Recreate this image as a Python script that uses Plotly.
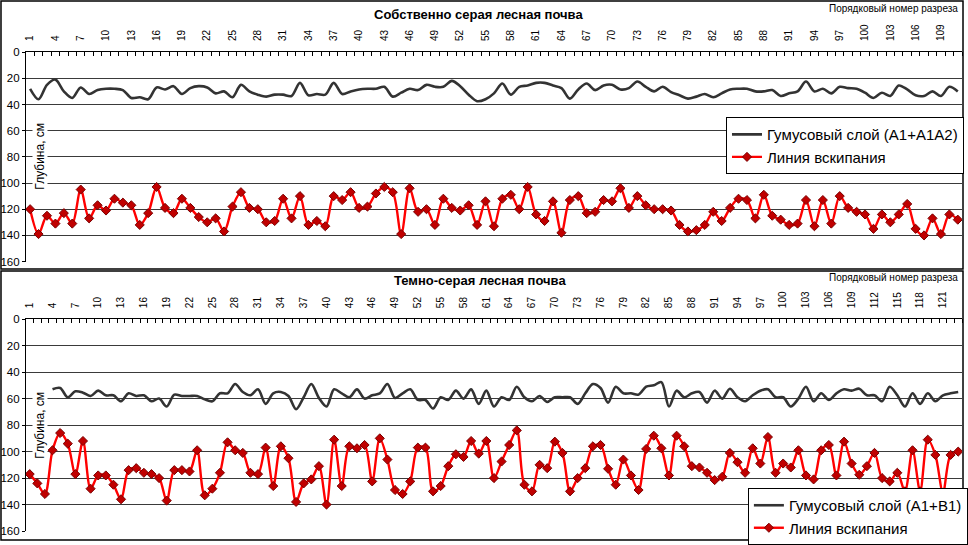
import plotly.graph_objects as go

# ---------------- data ----------------
top_sections = list(range(1, 112))
top_humus = [28, 36, 25, 21, 30, 35, 27, 32, 29, 28, 28, 29, 35, 34.5, 36, 27, 28.5, 26, 32, 27.5,
             26, 27, 31.5, 30, 34.5, 25, 30, 32.5, 34, 32.5, 32.5, 33.5, 23.5, 33, 32, 32.5, 23.5, 32, 30, 28.5,
             28, 28, 26.5, 34, 31, 28, 29, 25, 26.5, 26.5, 22, 26, 32.5, 37.5, 36, 31.5, 24, 32.5, 26.5, 25.5,
             23.5, 23.5, 25.5, 27.5, 35.5, 28.5, 24, 29, 25.5, 25, 28.5, 27.5, 22.5, 26.5, 30, 26.5, 30.5, 33, 35.5, 34,
             32, 34.5, 31.5, 28.5, 28, 28, 30, 30, 29, 33.5, 31.5, 30, 22.5, 30, 28, 31.5, 26.5, 27.5, 28, 31,
             35, 31, 33.5, 25.5, 28.5, 33, 33.5, 30, 33.5, 26.5, 30]
top_boil = [120, 139, 125, 131, 123, 131, 105, 127, 117, 121, 112, 115, 117, 132, 123, 103, 119, 123, 112, 119,
            126, 130, 127, 137, 118, 107, 119, 120, 130, 129, 112, 127, 110, 132, 129, 133, 110, 113, 107, 119,
            118, 108, 103, 107, 139, 104, 122, 120, 132, 112, 119, 121, 117, 132, 114, 133, 112, 109, 120, 103,
            124, 129, 114, 138, 113, 110, 123, 122, 113, 114, 104, 119, 110, 117, 120, 120, 121, 132, 137, 136,
            132, 122, 129, 119, 112, 113, 127, 109, 125, 128, 132, 131, 113, 133, 113, 131, 110, 119, 122, 124,
            135, 124, 130, 124, 116, 135, 140, 127, 139, 124, 128]
top_ticks = list(range(1, 112, 3))

bot_sections = list(range(1, 124))
bot_humus = [None, None, None, 53, 52, 59, 54.5, 55.5, 58, 54, 57.5, 57.5, 62, 56, 58, 57.5, 62, 60, 66, 57,
             58, 58, 58, 60.5, 62, 56, 56, 49, 55, 57.5, 53, 64, 56, 55, 58, 68, 59, 49, 59.5, 66,
             53, 56, 59, 53, 60, 57.5, 56, 49, 59.5, 56, 53, 61, 61, 67.5, 59, 61, 54, 60, 53, 64,
             54, 66, 59, 61, 51, 59, 62, 58, 62.5, 59, 59, 59, 64, 56, 49, 52, 63, 51, 56, 56,
             57, 51, 50, 47.5, 66, 54, 59, 56, 55, 63, 54, 60, 52.5, 59, 62, 57.5, 54, 53, 59, 59,
             66, 60, 51, 62, 56, 61, 56, 53, 54, 52.5, 57.5, 57.5, 62, 51, 57.5, 66, 56, 64, 56, 62,
             57.5, 56, 55]
bot_boil = [117, 124, 132, 99, 86, 94, 117, 92, 128, 118, 118, 125, 136, 114, 112.5, 116, 117, 120, 137, 114,
            114, 115, 99, 133, 128, 116, 93, 99, 101, 116, 117, 97, 126, 96, 105, 138, 124, 121, 111, 140,
            91, 126, 96, 97.5, 95, 122.5, 90, 106, 129, 132, 122.5, 97, 97, 130, 126, 111, 102, 104, 92, 101.5,
            92, 120, 107.5, 95, 84, 125, 130, 110, 112.5, 92.5, 101, 130, 120, 112.5, 96, 95, 113, 125, 106, 118,
            129, 98, 88, 97.5, 118, 88, 96, 111, 112, 116, 121.5, 119, 101, 108, 116, 97.5, 109, 89, 116, 109,
            112, 99, 118, 121, 99, 95, 118, 92.5, 109, 117.5, 111, 101, 120, 122.5, 116, 130, 99, 130, 91, 102.5,
            131, 102.5, 100]
bot_ticks = list(range(1, 124, 3))

y_ticks = list(range(0, 161, 20))

top_title = "Собственно серая лесная почва"
bot_title = "Темно-серая лесная почва"
x_title = "Порядковый номер разреза"
y_title = "Глубина, см"
top_humus_name = "Гумусовый слой (A1+A1A2)"
bot_humus_name = "Гумусовый слой (A1+B1)"
boil_name = "Линия вскипания"

# ---------------- figure ----------------
W, H = 968, 545
FONT = "Arial, Liberation Sans, sans-serif"

def px(x):
    return x / W

def py(y):
    return 1 - y / H

fig = go.Figure()

humus_style = dict(mode="lines", line=dict(color="#333333", width=2.6, shape="spline", smoothing=0.9))
boil_style = dict(mode="lines+markers",
                  line=dict(color="#ff0000", width=2.4, shape="spline", smoothing=0.9),
                  marker=dict(symbol="diamond", size=7, color="#c00000", line=dict(color="#7a0000", width=1)))

fig.add_trace(go.Scatter(x=top_sections, y=top_humus, name=top_humus_name, xaxis="x", yaxis="y",
                         legend="legend", connectgaps=False, **humus_style))
fig.add_trace(go.Scatter(x=top_sections, y=top_boil, name=boil_name, xaxis="x", yaxis="y",
                         legend="legend", **boil_style))
fig.add_trace(go.Scatter(x=bot_sections, y=bot_humus, name=bot_humus_name, xaxis="x2", yaxis="y2",
                         legend="legend2", connectgaps=False, **humus_style))
fig.add_trace(go.Scatter(x=bot_sections, y=bot_boil, name=boil_name, xaxis="x2", yaxis="y2",
                         legend="legend2", **boil_style))

xdom = [px(26), px(966)]

def xaxis_cfg(n, ticks, anchor):
    return dict(domain=xdom, anchor=anchor, side="top", range=[0.5, n + 0.5],
                tickmode="array", tickvals=ticks, ticktext=[str(t) for t in ticks],
                tickangle=-90, tickfont=dict(size=10, family=FONT, color="black"),
                showgrid=False, zeroline=False, showline=True, linecolor="black", linewidth=1,
                ticks="", ticklabelstandoff=8, automargin=False, fixedrange=True,
                minor=dict(tickmode="linear", tick0=0.5, dtick=1, ticks="inside", ticklen=4,
                           tickcolor="black", showgrid=False))

def yaxis_cfg(dom, anchor):
    return dict(domain=dom, anchor=anchor, range=[160, 0], tickmode="array", tickvals=y_ticks,
                ticktext=[str(t) for t in y_ticks], tickfont=dict(size=11.5, family=FONT, color="black"),
                showgrid=True, gridcolor="#3a3a3a", gridwidth=1, zeroline=False,
                showline=True, linecolor="black", linewidth=1, ticks="outside", ticklen=3,
                tickcolor="black", automargin=False, fixedrange=True)

legend_common = dict(xanchor="left", yanchor="top", bgcolor="white", bordercolor="black", borderwidth=1,
                     font=dict(size=15, family=FONT, color="black"), itemwidth=30, tracegroupgap=0)

fig.update_layout(
    width=W, height=H,
    margin=dict(l=0, r=0, t=0, b=0),
    paper_bgcolor="white", plot_bgcolor="white",
    font=dict(family=FONT, color="black"),
    xaxis=xaxis_cfg(111, top_ticks, "y"),
    yaxis=yaxis_cfg([py(263.5), py(52.5)], "x"),
    xaxis2=xaxis_cfg(123, bot_ticks, "y2"),
    yaxis2=yaxis_cfg([py(535), py(321.5)], "x2"),
    legend=dict(x=px(729), y=py(118), **legend_common),
    legend2=dict(x=px(751), y=py(492), **legend_common),
    shapes=[
        dict(type="rect", xref="paper", yref="paper", x0=px(1), x1=px(967), y0=py(271), y1=py(1),
             line=dict(color="black", width=1.5), fillcolor="rgba(0,0,0,0)", layer="above"),
        dict(type="rect", xref="paper", yref="paper", x0=px(1), x1=px(967), y0=py(544), y1=py(273),
             line=dict(color="black", width=1.5), fillcolor="rgba(0,0,0,0)", layer="above"),
    ],
    annotations=[
        dict(text=f"<b>{top_title}</b>", xref="paper", yref="paper", x=px(480), y=py(15),
             xanchor="center", yanchor="middle",
             showarrow=False, font=dict(size=13, family=FONT, color="black")),
        dict(text=f"<b>{bot_title}</b>", xref="paper", yref="paper", x=px(482), y=py(283),
             xanchor="center", yanchor="middle",
             showarrow=False, font=dict(size=13, family=FONT, color="black")),
        dict(text=x_title, xref="paper", yref="paper", x=px(964), y=py(9), xanchor="right",
             yanchor="middle",
             showarrow=False, font=dict(size=10, family=FONT, color="black")),
        dict(text=x_title, xref="paper", yref="paper", x=px(964), y=py(280), xanchor="right",
             yanchor="middle",
             showarrow=False, font=dict(size=10, family=FONT, color="black")),
        dict(text=y_title, xref="paper", yref="paper", x=px(40), y=py(157), textangle=-90,
             xanchor="center", yanchor="middle", borderpad=0,
             showarrow=False, bgcolor="white", font=dict(size=12, family=FONT, color="black")),
        dict(text=y_title, xref="paper", yref="paper", x=px(40), y=py(428), textangle=-90,
             xanchor="center", yanchor="middle", borderpad=0,
             showarrow=False, bgcolor="white", font=dict(size=12, family=FONT, color="black")),
    ],
)

fig.write_html("out.html", config={"displayModeBar": False},
               post_script="document.body.style.margin='0px';")
